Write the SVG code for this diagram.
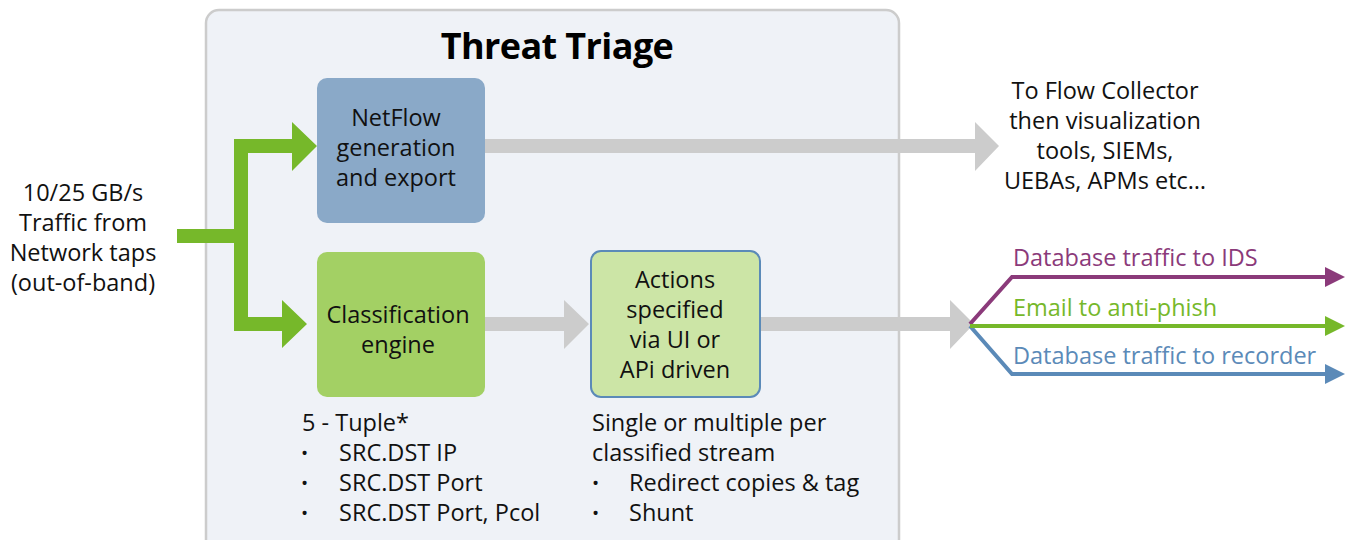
<svg xmlns="http://www.w3.org/2000/svg" width="1348" height="540" viewBox="0 0 1348 540">
  <style>
    .t { font-family: "Open Sans", "Liberation Sans", sans-serif; font-size: 23.5px; fill: #111; }
    .c { text-anchor: middle; }
    .b { font-size: 19px; }
    .title { font-family: "Open Sans", "Liberation Sans", sans-serif; font-size: 36px; font-weight: bold; fill: #000; text-anchor: middle; letter-spacing: -0.6px; }
    .gray { fill: #cccccc; }
    .green { fill: #76b82a; }
    .route { fill: none; stroke-width: 4; stroke-linejoin: miter; }
  </style>
  <defs>
    <marker id="mPurple" viewBox="0 0 10 10" refX="0" refY="5" markerWidth="5" markerHeight="5.5" markerUnits="strokeWidth" orient="auto">
      <path d="M0,0 L10,5 L0,10 Z" fill="#8b3a7a"/>
    </marker>
    <marker id="mGreen" viewBox="0 0 10 10" refX="0" refY="5" markerWidth="5" markerHeight="5.5" markerUnits="strokeWidth" orient="auto">
      <path d="M0,0 L10,5 L0,10 Z" fill="#76b82a"/>
    </marker>
    <marker id="mBlue" viewBox="0 0 10 10" refX="0" refY="5" markerWidth="5" markerHeight="5.5" markerUnits="strokeWidth" orient="auto">
      <path d="M0,0 L10,5 L0,10 Z" fill="#5b8ab8"/>
    </marker>
  </defs>

  <rect width="1348" height="540" fill="#ffffff"/>

  <!-- Threat Triage container -->
  <g id="container">
    <rect x="206" y="10" width="693" height="545" rx="13" fill="#eff2f7" stroke="#cccccc" stroke-width="2.5"/>
    <text class="title" x="557" y="59">Threat Triage</text>
  </g>

  <!-- connectors -->
  <g id="connectors">
    <!-- incoming traffic split (green) -->
    <path class="green" d="M177,229 H234 V139 H292 V122 L317,146 L292,171 V153 H248 V229 V243 V317 H282 V300 L307,324 L282,348 V331 H234 V243 H177 Z"/>
    <!-- NetFlow to flow collector -->
    <path class="gray" d="M485,139 H975 V122 L999,146 L975,171 V153 H485 Z"/>
    <!-- Classification to actions -->
    <path class="gray" d="M485,317 H564 V300 L589,324 L564,349 V331 H485 Z"/>
    <!-- Actions to output routes -->
    <path class="gray" d="M760,317 H950 V300 L974,324 L950,349 V331 H760 Z"/>
    <!-- output routes -->
    <path class="route" stroke="#8b3a7a" d="M970,324 L1012,277 H1325" marker-end="url(#mPurple)"/>
    <path class="route" stroke="#5b8ab8" d="M970,326 L1012,374 H1325" marker-end="url(#mBlue)"/>
    <path class="route" stroke="#76b82a" d="M970,326 H1325" marker-end="url(#mGreen)"/>
  </g>

  <!-- input label -->
  <g id="input">
    <text class="t c" x="83" y="201">10/25 GB/s</text>
    <text class="t c" x="83" y="231">Traffic from</text>
    <text class="t c" x="83" y="261">Network taps</text>
    <text class="t c" x="83" y="291">(out-of-band)</text>
  </g>

  <g id="netflow">
    <rect x="317" y="78" width="168" height="145" rx="10" fill="#8aa9c8"/>
    <text class="t c" x="396" y="126">NetFlow</text>
    <text class="t c" x="396" y="156">generation</text>
    <text class="t c" x="396" y="186">and export</text>
  </g>

  <g id="classification">
    <rect x="317" y="252" width="168" height="145" rx="10" fill="#a3d064"/>
    <text class="t c" x="398" y="323">Classification</text>
    <text class="t c" x="398" y="353">engine</text>
    <text class="t" x="302" y="431">5 - Tuple*</text>
    <text class="t b" x="301" y="460">•</text>
    <text class="t" x="339" y="461">SRC.DST IP</text>
    <text class="t b" x="301" y="490">•</text>
    <text class="t" x="339" y="491">SRC.DST Port</text>
    <text class="t b" x="301" y="520">•</text>
    <text class="t" x="339" y="521">SRC.DST Port, Pcol</text>
  </g>

  <g id="actions">
    <rect x="591" y="251" width="169" height="146" rx="10" fill="#cce5a6" stroke="#5b8ab8" stroke-width="2"/>
    <text class="t c" x="675" y="288">Actions</text>
    <text class="t c" x="675" y="318">specified</text>
    <text class="t c" x="675" y="348">via UI or</text>
    <text class="t c" x="675" y="378">APi driven</text>
    <text class="t" x="592" y="431">Single or multiple per</text>
    <text class="t" x="592" y="461">classified stream</text>
    <text class="t b" x="592" y="490">•</text>
    <text class="t" x="629" y="491">Redirect copies &amp; tag</text>
    <text class="t b" x="592" y="520">•</text>
    <text class="t" x="629" y="521">Shunt</text>
  </g>

  <g id="flow-collector">
    <text class="t c" x="1105" y="99">To Flow Collector</text>
    <text class="t c" x="1105" y="129">then visualization</text>
    <text class="t c" x="1105" y="159">tools, SIEMs,</text>
    <text class="t c" x="1105" y="189">UEBAs, APMs etc…</text>
  </g>

  <g id="route-labels">
    <text class="t" x="1013" y="266" style="fill:#8b3a7a">Database traffic to IDS</text>
    <text class="t" x="1013" y="316" style="fill:#76b82a">Email to anti-phish</text>
    <text class="t" x="1013" y="364" style="fill:#5b8ab8">Database traffic to recorder</text>
  </g>
</svg>
